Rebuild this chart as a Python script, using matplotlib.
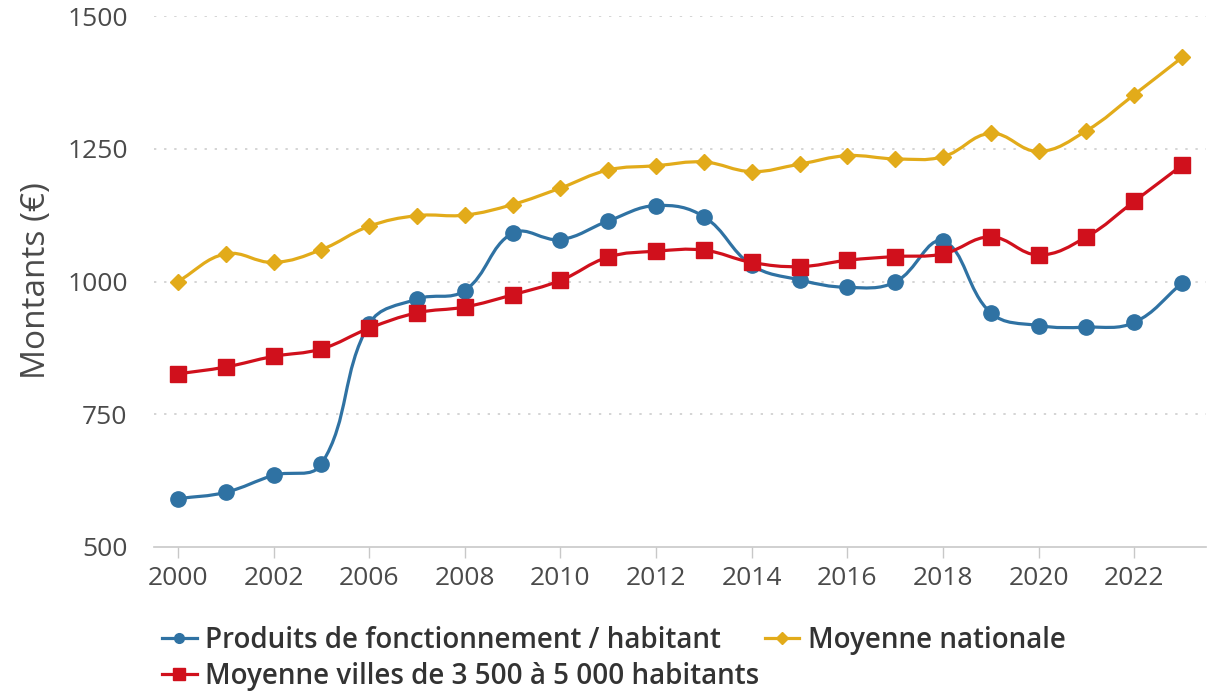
import numpy as np
import matplotlib
matplotlib.use("Agg")
import matplotlib.pyplot as plt
from matplotlib.path import Path
from matplotlib.patches import PathPatch
from matplotlib.lines import Line2D

plt.rcParams["font.family"] = ["Open Sans", "DejaVu Sans"]

# Data
years = ["2000", "2001", "2002", "2005", "2006", "2007", "2008", "2009", "2010",
         "2011", "2012", "2013", "2014", "2015", "2016", "2017", "2018", "2019",
         "2020", "2021", "2022", "2023"]
produits = [591, 603, 635, 656, 920, 967, 983, 1091, 1079, 1114, 1143, 1122,
            1031, 1003, 989, 999, 1076, 941, 917, 914, 923, 997]
nationale = [1000, 1052, 1036, 1060, 1104, 1124, 1125, 1145, 1176, 1210, 1218,
             1225, 1207, 1221, 1237, 1231, 1235, 1279, 1245, 1284, 1352, 1422]
villes = [826, 839, 859, 873, 912, 941, 952, 975, 1002, 1046, 1057, 1059, 1036,
          1028, 1040, 1047, 1052, 1084, 1050, 1084, 1151, 1219]
yticks = [500, 750, 1000, 1250, 1500]

BLUE = "#2f72a3"
YELLOW = "#e2ab1a"
RED = "#d0101c"
TEXT = "#4a4a4a"

W, H = 1213, 692
fig = plt.figure(figsize=(W / 100, H / 100), dpi=100)
ax = fig.add_axes([154 / W, 1 - 547 / H, (1206 - 154) / W, (547 - 16) / H])

x = np.arange(len(years))
ax.set_xlim(-0.5, len(years) - 0.5)
ax.set_ylim(500, 1500)


def smooth_path(xs, ys, tension=0.4):
    """Cubic Bezier path through the points (spline computed in screen space)."""
    pts = ax.transData.transform(np.column_stack([xs, ys]))
    n = len(pts)
    cp_in = np.zeros_like(pts)
    cp_out = np.zeros_like(pts)
    for i in range(n):
        prev = pts[i - 1] if i > 0 else pts[i]
        nxt = pts[i + 1] if i < n - 1 else pts[i]
        d01 = np.hypot(*(pts[i] - prev))
        d12 = np.hypot(*(nxt - pts[i]))
        tot = d01 + d12
        s01 = d01 / tot if tot else 0
        s12 = d12 / tot if tot else 0
        cp_in[i] = pts[i] - tension * s01 * (nxt - prev)
        cp_out[i] = pts[i] + tension * s12 * (nxt - prev)
    verts = [pts[0]]
    codes = [Path.MOVETO]
    for i in range(n - 1):
        verts += [cp_out[i], cp_in[i + 1], pts[i + 1]]
        codes += [Path.CURVE4] * 3
    inv = ax.transData.inverted()
    return Path(inv.transform(np.array(verts)), codes)


series = [
    (produits, BLUE, "o", 11, 7, 2, "Produits de fonctionnement / habitant"),
    (nationale, YELLOW, "D", 8, 6, 3, "Moyenne nationale"),
    (villes, RED, "s", 11.5, 8, 4, "Moyenne villes de 3 500 à 5 000 habitants"),
]
for vals, col, mk, ms, lms, z, lab in series:
    patch = PathPatch(smooth_path(x, vals), facecolor="none", edgecolor=col,
                      lw=2.3, capstyle="round", joinstyle="round", zorder=z)
    ax.add_patch(patch)
    ax.plot(x, vals, linestyle="none", marker=mk, ms=ms, color=col,
            markeredgecolor=col, zorder=z + 0.5, clip_on=False)

# Axes styling
for s in ["left", "right", "top"]:
    ax.spines[s].set_visible(False)
ax.spines["bottom"].set_color("#c8c8c8")
ax.spines["bottom"].set_linewidth(1.2)

ax.set_yticks(yticks)
ax.set_yticklabels([str(v) for v in yticks])
ax.tick_params(axis="y", length=0, pad=19, labelsize=19, labelcolor=TEXT)
ax.set_xticks(x[::2])
ax.set_xticklabels(years[::2])
ax.tick_params(axis="x", length=8, width=1, color="#c8c8c8", pad=6,
               labelsize=19, labelcolor=TEXT)
ax.yaxis.grid(True, linestyle=(0, (1.2, 4)), color="#d4d4d4", lw=1.4)
ax.set_axisbelow(True)
for gl in ax.get_ygridlines():
    if gl.get_ydata()[0] == 500:
        gl.set_visible(False)

fig.text(37 / W, 1 - 281 / H, "Montants (€)", rotation=90, va="center",
         ha="center", fontsize=24, color=TEXT)

handles = [Line2D([], [], color=col, lw=2.3, marker=mk, ms=lms)
           for _, col, mk, _, lms, _, _ in series]
labels = [s[6] for s in series]
order = [0, 2, 1]
fig.legend([handles[i] for i in order], [labels[i] for i in order],
           loc="upper left", bbox_to_anchor=(148 / W, 1 - 612 / H), ncol=2,
           frameon=False, handlelength=1.25, handletextpad=0.3,
           columnspacing=0.2, labelspacing=0.25, borderpad=0,
           prop={"size": 20, "weight": "semibold"}, labelcolor="#333333")

fig.savefig("out.png", dpi=100)
